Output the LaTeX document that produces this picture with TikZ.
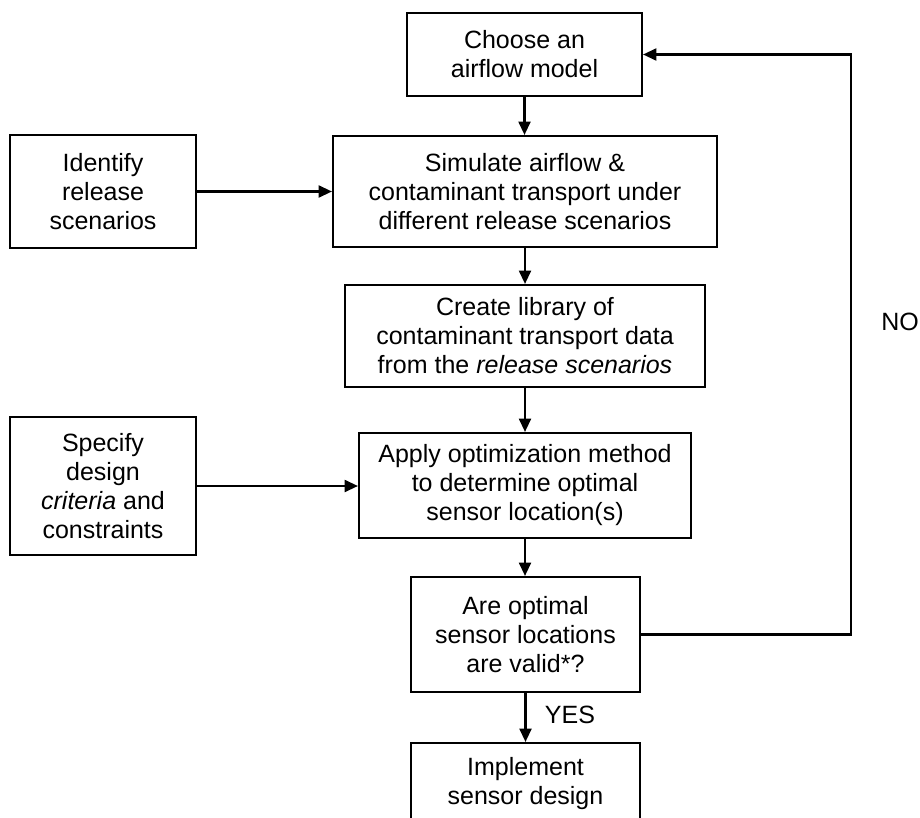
\documentclass[tikz,border=0pt]{standalone}
\usepackage{fontspec}
\setmainfont{Liberation Sans}
\usetikzlibrary{arrows.meta}
\begin{document}
\begin{tikzpicture}[x=0.75pt,y=-0.75pt,
  box/.style={draw, line width=1.6pt, align=center, inner sep=0pt,
    font=\fontsize{18.75pt}{21.75pt}\selectfont},
  flow/.style={-{Triangle[length=10pt,width=9pt]}, line width=1.6pt},
  lbl/.style={font=\fontsize{18.75pt}{21.75pt}\selectfont, inner sep=0pt}]
\useasboundingbox (0,0) rectangle (920,817);
\clip (0,0) rectangle (920,817);

% process steps
\node[box, minimum width=176.25pt, minimum height=62.25pt] (choose) at (524.5,54.5)
  {Choose an\\airflow model};
\node[box, minimum width=139.5pt, minimum height=84.75pt] (identify) at (103,191.5)
  {Identify\\release\\scenarios};
\node[box, minimum width=288pt, minimum height=83.25pt] (simulate) at (525,191.5)
  {Simulate airflow \&\\contaminant transport under\\different release scenarios};
\node[box, minimum width=270pt, minimum height=76.5pt] (create) at (525,336)
  {Create library of\\contaminant transport data\\from the \textit{release scenarios}};
\node[box, minimum width=139.5pt, minimum height=103.5pt] (specify) at (103,486)
  {Specify\\design\\\textit{criteria} and\\constraints};
\node[box, minimum width=249pt, minimum height=78.75pt] (apply) at (525,485.5)
  {Apply optimization method\\to determine optimal\\sensor location(s)};
\node[box, minimum width=171.75pt, minimum height=86.25pt] (valid) at (525.5,634.5)
  {Are optimal\\sensor locations\\are valid*?};
\node[box, minimum width=171.75pt, minimum height=61.5pt] (implement) at (525.5,784)
  {Implement\\sensor design};

% connectors
\draw[flow] (choose.south) -- (choose.south |- simulate.north);
\draw[flow] (identify.east) -- (identify.east -| simulate.west);
\draw[flow] (simulate.south) -- (create.north);
\draw[flow] (create.south) -- (apply.north);
\draw[flow] (specify.east) -- (specify.east -| apply.west);
\draw[flow] (apply.south) -- (apply.south |- valid.north);
\draw[flow] (valid.south) -- (implement.north);

% feedback loop when the locations are not valid
\coordinate (loopB) at (851,634.5);
\coordinate (loopT) at (851,54.5);
\draw[flow] (valid.east) -- (loopB) -- (loopT) -- (choose.east);

\node[lbl] (no) at (900,322) {NO};
\node[lbl] (yes) at (570,715) {YES};
\end{tikzpicture}
\end{document}
